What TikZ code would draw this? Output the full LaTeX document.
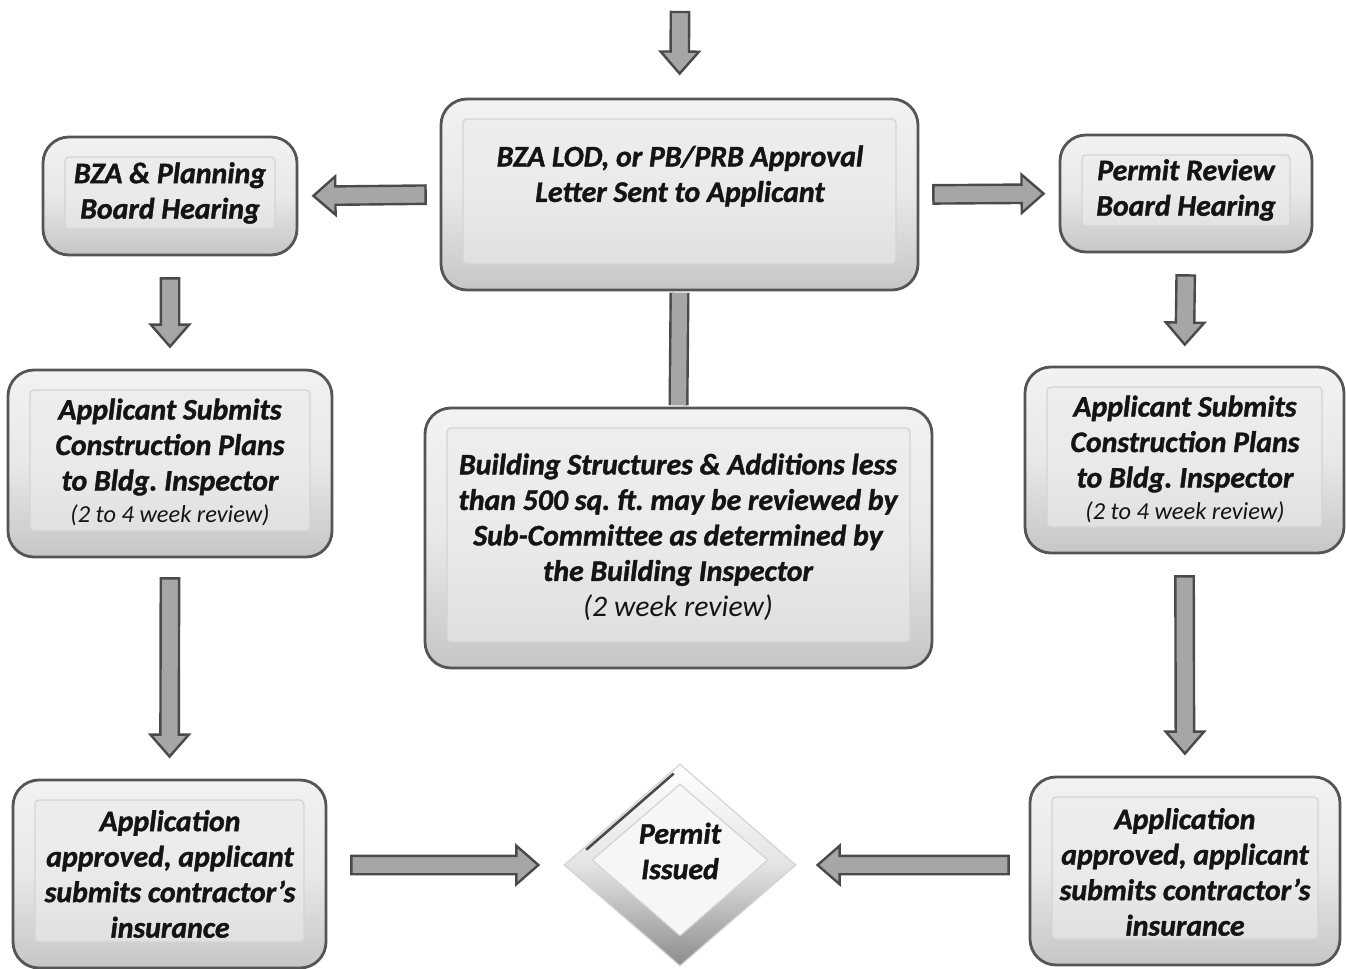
\documentclass[tikz,border=0pt]{standalone}
\usepackage{fontspec}
\setmainfont{Carlito}[BoldFont={Carlito Bold}, ItalicFont={Carlito Italic}, BoldItalicFont={Carlito Bold Italic}, BoldItalicFeatures={FakeBold=1.3}]
\usetikzlibrary{calc,shapes.geometric}
\frenchspacing
\definecolor{arrfill}{HTML}{A6A6A6}
\definecolor{arrline}{HTML}{4A4A4A}
\definecolor{boxline}{HTML}{555555}
\definecolor{boxtop}{HTML}{F2F2F2}
\definecolor{boxmid}{HTML}{E8E8E8}
\definecolor{boxbot}{HTML}{C6C6C6}
\definecolor{boxinner}{HTML}{ECECEC}
\definecolor{innerline}{HTML}{D4D4D4}
\definecolor{txtcol}{HTML}{141414}
\definecolor{diabot}{HTML}{8C8C8C}
\definecolor{diamid}{HTML}{E4E4E4}
\definecolor{diain}{HTML}{F6F6F6}
\newcommand\arrHS{4.6pt}
\newcommand\arrHW{9.6pt}
\newcommand\arrHL{11pt}
\newcommand\blockarrow[4]{%
  \coordinate (ba) at ($(#1)!#3!(#2)$);
  \coordinate (bb) at ($(#2)!#4!(#1)$);
  \coordinate (bc) at ($(bb)!\arrHL!(ba)$);
  \draw[blockarr] ($(ba)!\arrHS!90:(bb)$) -- ($(bc)!\arrHS!-90:(ba)$) -- ($(bc)!\arrHW!-90:(ba)$) -- (bb) -- ($(bc)!\arrHW!90:(ba)$) -- ($(bc)!\arrHS!90:(ba)$) -- ($(ba)!\arrHS!-90:(bb)$) -- cycle;
}
\tikzset{
  blockarr/.style={fill=arrfill, draw=arrline, line width=1.2pt, line join=miter},
  flowbox/.style={rounded corners=13pt, draw=boxline, line width=1.4pt,
    top color=boxtop, bottom color=boxbot, middle color=boxmid, inner sep=0pt,
    path picture={\draw[innerline, line width=0.6pt, fill=boxinner, fill opacity=0.6, rounded corners=2pt]
      ([shift={(11pt,-10pt)}]path picture bounding box.north west) rectangle
      ([shift={(-11pt,13pt)}]path picture bounding box.south east);}},
  boxtext/.style={align=center, text=txtcol, inner sep=0pt,
    font=\fontsize{14.9}{17.75}\selectfont\bfseries\itshape\frenchspacing},
}
\newcommand\smallnote{\fontsize{12.2}{14}\selectfont\mdseries\itshape}
\begin{document}
\begin{tikzpicture}[x=0.5pt,y=-0.5pt]
\useasboundingbox (0,0) rectangle (1346,969);

% boxes
\node[flowbox, minimum width=238.5pt, minimum height=95.5pt] (top) at (679.5,194.5) {};
\node[flowbox, minimum width=127pt, minimum height=59pt] (bza) at (170,196) {};
\node[flowbox, minimum width=126pt, minimum height=58.5pt] (prb) at (1186,193.5) {};
\node[flowbox, minimum width=162pt, minimum height=93.5pt] (applL) at (170,463.5) {};
\node[flowbox, minimum width=159.5pt, minimum height=93pt] (applR) at (1184.5,460) {};
\node[flowbox, minimum width=253.5pt, minimum height=130pt] (mid) at (678.5,538) {};
\node[flowbox, minimum width=156.5pt, minimum height=94pt] (appL) at (169.5,874) {};
\node[flowbox, minimum width=155pt, minimum height=94pt] (appR) at (1185,871) {};

% diamond
\node[diamond, minimum width=116pt, minimum height=101pt, inner sep=0pt,
  draw=innerline, line width=0.6pt, top color=white, bottom color=diabot, middle color=diamid] (dia) at (680,865) {};
\node[diamond, minimum width=88pt, minimum height=76pt, inner sep=0pt,
  draw=innerline, line width=0.6pt, fill=diain] (diainner) at (680,860) {};
\draw[arrline, line width=1.3pt]
  ($(dia.west)!0.17!(dia.north)+(3,2)$) -- ($(dia.west)!0.92!(dia.north)+(3,2)$);

% connector bar
\draw[arrline, line width=10pt] ([yshift=-0.7pt]top.south) -- ([yshift=0.7pt]mid.north);
\draw[arrfill, line width=7.6pt] ([yshift=-0.7pt]top.south) -- ([yshift=0.7pt]mid.north);

% arrows
\coordinate (entry) at (680,12);
\blockarrow{entry}{top.north}{0pt}{12pt}
\blockarrow{top.west}{bza.east}{7pt}{7.5pt}
\blockarrow{top.east}{prb.west}{7pt}{7.5pt}
\blockarrow{bza.south}{applL.north}{11pt}{11pt}
\blockarrow{prb.south}{applR.north}{11pt}{10.5pt}
\blockarrow{applL.south}{appL.north}{10pt}{11pt}
\blockarrow{applR.south}{appR.north}{11pt}{11pt}
\coordinate (bl) at (appL.east |- dia.west);
\coordinate (br) at (appR.west |- dia.east);
\blockarrow{bl}{dia.west}{12pt}{12.5pt}
\blockarrow{br}{dia.east}{10pt}{10.5pt}

% texts
\node[boxtext] (ttop) at (680,176) {BZA LOD, or PB/PRB Approval\\Letter Sent to Applicant};
\node[boxtext] (tbza) at (170,193) {BZA \& Planning\\Board Hearing};
\node[boxtext] (tprb) at (1186,190) {Permit Review\\Board Hearing};
\node[boxtext] (tapplL) at (170,462) {Applicant Submits\\Construction Plans\\to Bldg. Inspector\\[-2pt]{\smallnote (2 to 4 week review)}};
\node[boxtext] (tapplR) at (1185,459) {Applicant Submits\\Construction Plans\\to Bldg. Inspector\\[-2pt]{\smallnote (2 to 4 week review)}};
\node[boxtext] (tmid) at (678,537) {Building Structures \& Additions less\\than 500 sq. ft. may be reviewed by\\Sub-Committee as determined by\\the Building Inspector\\{\mdseries\itshape (2 week review)}};
\node[boxtext] (tappL) at (170,874) {Application\\approved, applicant\\submits contractor’s\\insurance};
\node[boxtext] (tappR) at (1185,872) {Application\\approved, applicant\\submits contractor’s\\insurance};
\node[boxtext] (tdia) at (680,851) {Permit\\Issued};
\end{tikzpicture}
\end{document}
